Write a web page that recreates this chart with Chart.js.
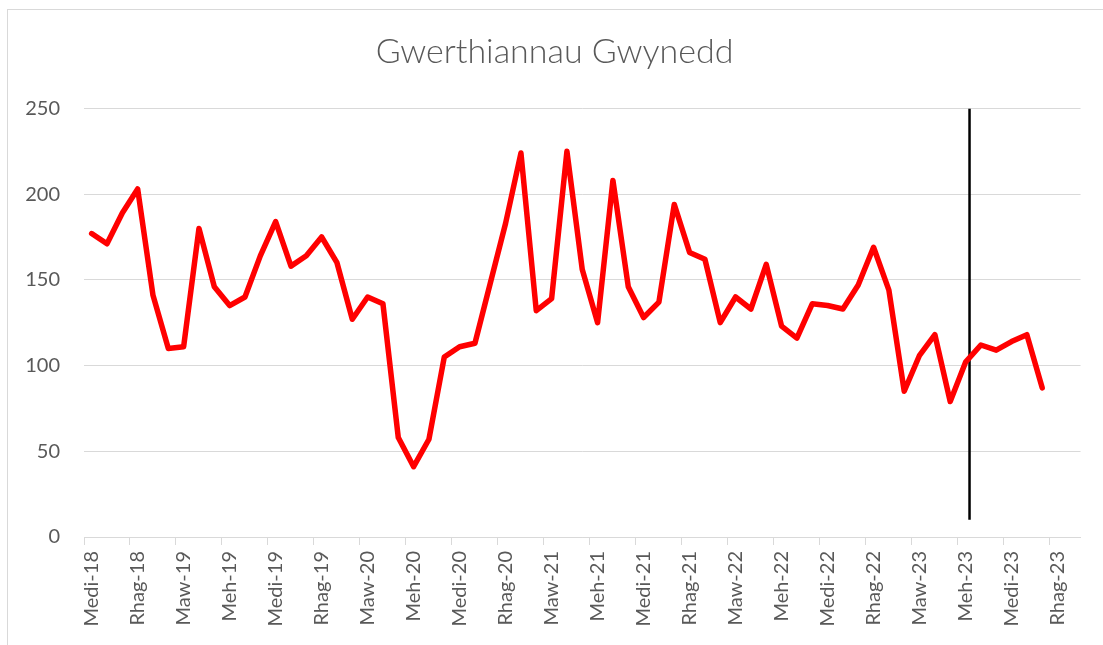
<!DOCTYPE html>
<html>
<head>
<meta charset="utf-8">
<script src="https://cdn.jsdelivr.net/npm/chart.js@4/dist/chart.umd.min.js"></script>
<style>
  html, body { margin: 0; padding: 0; background: #fff; overflow: hidden; }
  #wrap { position: relative; width: 1103px; height: 645px; }
  #frame { position: absolute; left: 7px; top: 9px; width: 1200px; height: 700px;
           border: 1px solid #d9d9d9; pointer-events: none; }
</style>
</head>
<body>
<div id="wrap">
  <canvas id="chart" width="1103" height="645"></canvas>
  <div id="frame"></div>
</div>
<script>
// misoedd: Medi 2018 hyd Ionawr 2024 (dim ond pob trydydd label yn cael ei ddangos)
const months = [
  'Medi-18', 'Hyd-18', 'Tach-18', 'Rhag-18',
  'Ion-19', 'Chwe-19', 'Maw-19', 'Ebr-19', 'Mai-19', 'Meh-19', 'Gorff-19', 'Awst-19', 'Medi-19', 'Hyd-19', 'Tach-19', 'Rhag-19',
  'Ion-20', 'Chwe-20', 'Maw-20', 'Ebr-20', 'Mai-20', 'Meh-20', 'Gorff-20', 'Awst-20', 'Medi-20', 'Hyd-20', 'Tach-20', 'Rhag-20',
  'Ion-21', 'Chwe-21', 'Maw-21', 'Ebr-21', 'Mai-21', 'Meh-21', 'Gorff-21', 'Awst-21', 'Medi-21', 'Hyd-21', 'Tach-21', 'Rhag-21',
  'Ion-22', 'Chwe-22', 'Maw-22', 'Ebr-22', 'Mai-22', 'Meh-22', 'Gorff-22', 'Awst-22', 'Medi-22', 'Hyd-22', 'Tach-22', 'Rhag-22',
  'Ion-23', 'Chwe-23', 'Maw-23', 'Ebr-23', 'Mai-23', 'Meh-23', 'Gorff-23', 'Awst-23', 'Medi-23', 'Hyd-23', 'Tach-23', 'Rhag-23',
  'Ion-24'
];

// gwerthiannau misol, Medi-18 hyd Tach-23
const sales = [
  177, 171, 189, 203, 141, 110, 111, 180, 146, 135,
  140, 164, 184, 158, 164, 175, 160, 127, 140, 136,
  58, 41, 57, 105, 111, 113, 148, 183, 224, 132,
  139, 225, 156, 125, 208, 146, 128, 137, 194, 166,
  162, 125, 140, 133, 159, 123, 116, 136, 135, 133,
  147, 169, 144, 85, 106, 118, 79, 102, 112, 109,
  114, 118, 87
];

// llinell fertigol (safle mewn misoedd o Medi-18)
const markerX = [57.26, 57.26];
const markerY = [10, 250];

const yTicks = [0, 50, 100, 150, 200, 250];

const grey = '#d9d9d9';
const textGrey = '#595959';
const font = 'Lato, Carlito, Calibri, sans-serif';

new Chart(document.getElementById('chart').getContext('2d'), {
  type: 'line',
  data: {
    labels: months,
    datasets: [
      {
        label: 'Gwerthiannau',
        data: sales,
        borderColor: '#ff0000',
        borderWidth: 5.5,
        pointRadius: 0,
        tension: 0,
        borderJoinStyle: 'round',
        borderCapStyle: 'round',
        xAxisID: 'x'
      },
      {
        label: 'marker',
        data: markerX.map(function (x, i) { return { x: x, y: markerY[i] }; }),
        borderColor: '#000000',
        borderWidth: 2.5,
        pointRadius: 0,
        xAxisID: 'x2'
      }
    ]
  },
  options: {
    responsive: false,
    animation: false,
    layout: { padding: { left: 24, right: 18, top: 0, bottom: 0 } },
    plugins: {
      legend: { display: false },
      tooltip: { enabled: false },
      title: {
        display: true,
        text: 'Gwerthiannau Gwynedd',
        color: textGrey,
        font: { family: font, size: 34, weight: '300' },
        padding: { top: 31.6, bottom: 36 }
      }
    },
    scales: {
      x: {
        type: 'category',
        offset: true,
        grid: {
          offset: true,
          drawOnChartArea: false,
          drawTicks: true,
          tickLength: 8,
          tickColor: function (ctx) { return ctx.index % 3 === 0 ? grey : 'rgba(0,0,0,0)'; }
        },
        border: { display: true, color: grey, width: 1 },
        ticks: {
          autoSkip: false,
          minRotation: 90,
          maxRotation: 90,
          padding: 6,
          color: textGrey,
          font: { family: font, size: 20 },
          callback: function (value, index) { return index % 3 === 0 ? this.getLabelForValue(value) : ''; }
        },
        afterFit: function (scale) { scale.height = 108; }
      },
      x2: {
        type: 'linear',
        display: false,
        min: -0.5,
        max: months.length - 0.5
      },
      y: {
        min: 0,
        max: 250,
        afterBuildTicks: function (scale) { scale.ticks = yTicks.map(function (v) { return { value: v }; }); },
        grid: { color: grey, lineWidth: 1, drawTicks: false },
        border: { display: false },
        ticks: {
          padding: 24,
          color: textGrey,
          font: { family: font, size: 20 }
        },
        afterFit: function (scale) { scale.width = 60; }
      }
    }
  }
});
</script>
</body>
</html>
